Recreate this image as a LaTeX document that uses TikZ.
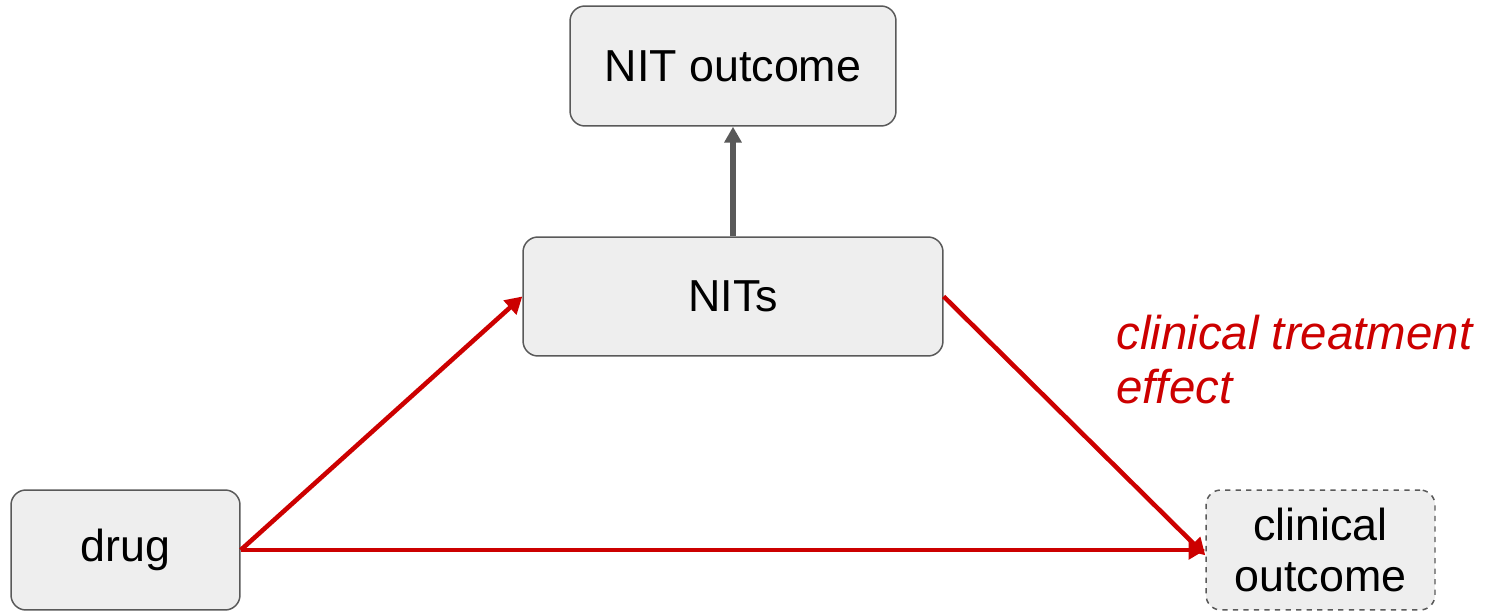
\documentclass[tikz,border=0pt]{standalone}
\usepackage{fontspec}
\setmainfont{Liberation Sans}
\usetikzlibrary{arrows.meta}
\definecolor{boxfill}{HTML}{EEEEEE}
\definecolor{boxline}{HTML}{595959}
\definecolor{effectred}{HTML}{CC0000}
\tikzset{
  box/.style={draw=boxline, line width=0.85pt, fill=boxfill, rounded corners=8.5pt,
    inner sep=0pt, align=center, font=\fontsize{25.5}{29.5}\selectfont},
  redarrow/.style={draw=effectred, line width=2.6pt,
    -{Triangle[length=9.5pt, width=10.5pt]}},
  grayarrow/.style={draw=boxline, line width=3pt,
    -{Triangle[length=9pt, width=9.5pt]}},
  effectlabel/.style={text=effectred, align=left, inner sep=0pt,
    font=\fontsize{27}{30.6}\selectfont\itshape}
}
\begin{document}
\begin{tikzpicture}[x=0.02cm, y=-0.02cm]
  \useasboundingbox (0,0) rectangle (1487,611);
  % boxes
  \node[box, minimum width=6.52cm, minimum height=2.4cm] (nitout) at (733,66) {NIT outcome};
  \node[box, minimum width=8.4cm, minimum height=2.38cm] (nits) at (733,296.5) {NITs};
  \node[box, minimum width=4.58cm, minimum height=2.4cm] (drug) at (125.5,550) {drug};
  \node[box, dashed, minimum width=4.58cm, minimum height=2.4cm] (clin) at (1320.5,550) {clinical\\outcome};
  % label of the effect path (base anchor sits on the last line)
  \node[effectlabel, anchor=base west] (effect) at (1116,403) {clinical treatment\\effect};
  % connectors
  \draw[grayarrow] (nits.north) -- (nitout.south);
  \draw[redarrow] (drug.east) -- (nits.west);
  \draw[redarrow] (drug.east) -- (clin.west);
  \draw[redarrow] (nits.east) -- ([yshift=-3]clin.west);
\end{tikzpicture}
\end{document}
